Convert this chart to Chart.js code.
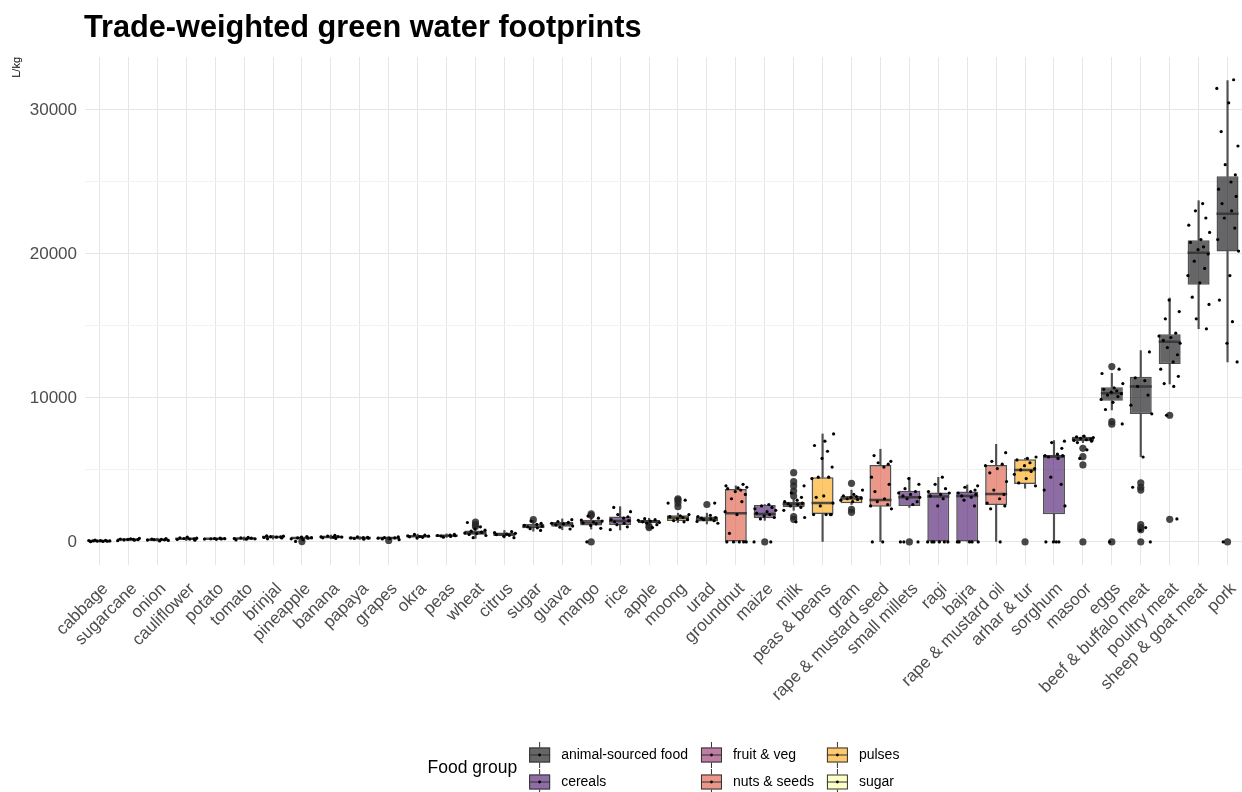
<!DOCTYPE html>
<html>
<head>
<meta charset="utf-8">
<title>Trade-weighted green water footprints</title>
<script src="https://cdn.jsdelivr.net/npm/chart.js@4.4.1/dist/chart.umd.min.js"></script>
<style>
  html, body { margin: 0; padding: 0; background: #fff; }
</style>
</head>
<body>
<canvas id="wfChart" width="1242" height="792"></canvas>
<script>
const FONT = '"Liberation Sans", Arial, sans-serif';

// foods in order of median footprint (L/kg)
const foods = ['cabbage', 'sugarcane', 'onion', 'cauliflower', 'potato', 'tomato', 'brinjal',
  'pineapple', 'banana', 'papaya', 'grapes', 'okra', 'peas', 'wheat', 'citrus', 'sugar', 'guava',
  'mango', 'rice', 'apple', 'moong', 'urad', 'groundnut', 'maize', 'milk', 'peas & beans', 'gram',
  'rape & mustard seed', 'small millets', 'ragi', 'bajra', 'rape & mustard oil', 'arhar & tur',
  'sorghum', 'masoor', 'eggs', 'beef & buffalo meat', 'poultry meat', 'sheep & goat meat', 'pork'];

const foodGroup = ['fruit & veg', 'sugar', 'fruit & veg', 'fruit & veg', 'fruit & veg', 'fruit & veg',
  'fruit & veg', 'fruit & veg', 'fruit & veg', 'fruit & veg', 'fruit & veg', 'fruit & veg',
  'fruit & veg', 'cereals', 'fruit & veg', 'sugar', 'fruit & veg', 'fruit & veg', 'cereals',
  'fruit & veg', 'pulses', 'pulses', 'nuts & seeds', 'cereals', 'animal-sourced food', 'pulses',
  'pulses', 'nuts & seeds', 'cereals', 'cereals', 'cereals', 'nuts & seeds', 'pulses', 'cereals',
  'pulses', 'animal-sourced food', 'animal-sourced food', 'animal-sourced food',
  'animal-sourced food', 'animal-sourced food'];

const groupNames = ['animal-sourced food', 'cereals', 'fruit & veg', 'nuts & seeds', 'pulses', 'sugar'];
const groupFill = ['rgba(0,0,4,0.6)', 'rgba(66,10,104,0.6)', 'rgba(147,38,103,0.6)',
  'rgba(221,81,58,0.6)', 'rgba(252,165,10,0.6)', 'rgba(252,255,164,0.6)'];

const yTicks = [0, 5000, 10000, 15000, 20000, 25000, 30000];

// box statistics
const q1 = [40, 130, 120, 180, 200, 200, 300, 230, 300, 240, 220, 330, 380, 500, 420, 950, 1050,
  1150, 1180, 1300, 1450, 1420, 0, 1650, 2410, 1940, 2690, 2450, 2500, 0, 0, 2570, 4030, 1920,
  7000, 9810, 8890, 12360, 17870, 20180];
const median = [70, 170, 160, 230, 220, 240, 340, 280, 350, 280, 270, 390, 430, 620, 530, 1080,
  1230, 1350, 1450, 1420, 1680, 1580, 2000, 1950, 2640, 2710, 3020, 2920, 3100, 3150, 3190, 3330,
  5000, 5920, 7150, 10330, 10790, 13910, 20090, 22800];
const q3 = [100, 210, 200, 280, 240, 280, 390, 320, 400, 320, 320, 450, 480, 800, 650, 1250, 1380,
  1550, 1760, 1530, 1850, 1760, 3680, 2570, 2800, 4490, 3190, 5350, 3560, 3430, 3500, 5350, 5740,
  6040, 7300, 10740, 11480, 14420, 20950, 25390];
const whiskerLow = [10, 80, 60, 100, 170, 120, 200, 150, 220, 180, 150, 250, 310, 250, 280, 750,
  850, 900, 830, 950, 1350, 1250, 0, 1500, 2200, 0, 2600, 0, 2400, 0, 0, 0, 3730, 0, 6900, 9170,
  5930, 10970, 14810, 12500];
const whiskerHigh = [140, 260, 260, 350, 270, 350, 450, 400, 480, 360, 380, 540, 560, 1100, 800,
  1500, 1600, 1750, 2450, 1650, 2000, 2000, 3900, 2600, 3000, 7500, 3600, 6440, 4490, 4490, 3960,
  6780, 5800, 7040, 7400, 11710, 13290, 16940, 23700, 32040];

// values beyond the whiskers
const outliers = [[], [], [], [], [], [], [], [30], [], [], [100], [], [], [1080, 1200, 1380], [],
  [1550], [], [0, 1850, 1950], [], [1000, 1100], [2450, 2700, 2900, 3000], [2600], [], [0],
  [1570, 1760, 3190, 3540, 3890, 4190, 4810], [], [2060, 2270, 4070], [], [0], [], [], [], [0], [],
  [0, 5350, 5920, 6500], [0, 8180, 8360, 12180], [0, 850, 1000, 1200, 3600, 3800, 4100],
  [1570, 8800], [], [0]];

// individual observations
const observations = [
  [20, 40, 50, 60, 70, 80, 90, 100, 110, 130],
  [90, 120, 140, 160, 170, 180, 200, 220, 250],
  [70, 110, 130, 150, 160, 180, 200, 230],
  [120, 170, 200, 220, 240, 260, 290, 330],
  [180, 200, 210, 220, 230, 240, 260],
  [140, 190, 220, 240, 260, 280, 320],
  [220, 280, 310, 330, 350, 370, 400, 430],
  [40, 160, 220, 260, 280, 300, 330, 380],
  [240, 290, 320, 340, 360, 380, 410, 460],
  [190, 240, 260, 280, 300, 320, 350],
  [160, 210, 240, 260, 280, 310, 350],
  [270, 320, 360, 380, 400, 430, 470, 520],
  [330, 380, 410, 430, 450, 470, 520],
  [300, 450, 520, 580, 620, 680, 750, 820, 900, 1050, 1350],
  [300, 400, 460, 510, 550, 600, 650, 720],
  [800, 920, 980, 1050, 1100, 1150, 1220, 1300, 1450],
  [900, 1020, 1100, 1180, 1250, 1300, 1360, 1420, 1550],
  [0, 950, 1150, 1250, 1320, 1380, 1450, 1520, 1650, 1800],
  [850, 1050, 1200, 1300, 1400, 1480, 1550, 1650, 1750, 1900, 2100, 2400],
  [1000, 1200, 1300, 1350, 1400, 1450, 1500, 1550, 1620],
  [1400, 1480, 1550, 1620, 1700, 1760, 1820, 1900, 2700, 2900],
  [1300, 1420, 1480, 1550, 1600, 1650, 1700, 1760, 1850, 2700],
  [0, 0, 0, 0, 0, 600, 1900, 2100, 2800, 3000, 3300, 3500, 3600, 3700, 3750, 3800, 3900, 4000],
  [0, 0, 1600, 1700, 1800, 1900, 2000, 2100, 2200, 2300, 2400, 2500, 2600],
  [1400, 1700, 2200, 2400, 2500, 2600, 2650, 2700, 2800, 2900, 3100, 3400, 3900],
  [1900, 1900, 1900, 1900, 2500, 2700, 3100, 3200, 4400, 4500, 4500, 5200, 5800, 6300, 6700, 7000, 7500],
  [2800, 2900, 2950, 3000, 3050, 3100, 3150, 3200, 3300, 3600],
  [0, 0, 2300, 2500, 2600, 2800, 3000, 3500, 4000, 4500, 5200, 5400, 5500, 5600, 6000],
  [0, 0, 0, 2600, 2800, 3000, 3100, 3200, 3300, 3400, 3500, 3700, 4000, 4400],
  [0, 0, 0, 0, 0, 0, 2500, 3000, 3200, 3300, 3400, 3500, 3700, 4000, 4500],
  [0, 0, 0, 0, 0, 2500, 2900, 3100, 3200, 3300, 3400, 3500, 3600, 3800, 3900],
  [0, 2300, 2500, 2700, 3000, 3300, 3600, 4200, 4800, 5100, 5300, 5400, 5600, 6200],
  [3900, 4100, 4400, 4700, 4900, 5000, 5100, 5300, 5500, 5700, 5800, 5900],
  [0, 0, 0, 0, 2500, 3600, 4000, 4500, 5800, 5900, 6000, 6000, 6100, 6500, 6900, 7000],
  [5800, 6400, 6900, 7000, 7050, 7100, 7150, 7200, 7250, 7300, 7350],
  [0, 8200, 9200, 9700, 9900, 10100, 10200, 10300, 10400, 10500, 10600, 10700, 11000, 11700, 12000],
  [0, 800, 1000, 3800, 5900, 8900, 9500, 10200, 10800, 11200, 11400, 13200],
  [1600, 8800, 10800, 11000, 11500, 12000, 12500, 13000, 13500, 13800, 14000, 14200, 14300, 14500, 15500, 16000, 16800],
  [14800, 15500, 16500, 17000, 18000, 18500, 19000, 19500, 20000, 20300, 20500, 20800, 21000, 21500, 22000, 22500, 23000, 23500],
  [0, 12500, 13800, 15300, 16800, 18500, 20200, 21000, 21800, 22500, 23000, 23500, 24000, 24500, 25000, 25500, 26200, 27500, 28500, 30500, 31500, 32100]
];

// horizontal spread of the observation dots, in category units
const spread = [-0.31, 0.12, 0.27, -0.08, 0.36, -0.22, 0.04, -0.37, 0.21, -0.15, 0.33, -0.02,
  0.17, -0.28, 0.08, 0.38, -0.34, 0.25, -0.11, 0.14, -0.19, 0.3];

const fillFor = foodGroup.map(g => groupFill[groupNames.indexOf(g)]);
const EDGE = 'rgba(51,51,51,0.85)';

const outlierPts = [];
outliers.forEach((vals, i) => vals.forEach(v => outlierPts.push({ x: i, y: v })));
const obsPts = [];
observations.forEach((vals, i) => vals.forEach((v, k) => {
  obsPts.push({ x: i + spread[(k + i * 7) % spread.length], y: v });
}));

// title sits flush with the panel's left edge
const panelTitle = {
  id: 'panelTitle',
  afterDraw(chart) {
    const ctx = chart.ctx;
    ctx.save();
    ctx.font = 'bold 30.7px ' + FONT;
    ctx.fillStyle = '#000';
    ctx.textBaseline = 'alphabetic';
    ctx.fillText('Trade-weighted green water footprints', chart.chartArea.left - 1, 37);
    ctx.restore();
  }
};

// two-row legend with boxplot keys, filled column by column
const groupLegend = {
  id: 'groupLegend',
  afterDraw(chart) {
    const ctx = chart.ctx;
    const area = chart.chartArea;
    const keyW = 21, keyGap = 11, colGap = 13, titleGap = 12;
    ctx.save();
    ctx.font = '17.5px ' + FONT;
    const titleW = ctx.measureText('Food group').width;
    ctx.font = '14px ' + FONT;
    const cols = [];
    for (let c = 0; c < groupNames.length; c += 2) {
      const idx = [c, c + 1];
      cols.push({ idx, w: Math.max(...idx.map(i => ctx.measureText(groupNames[i]).width)) });
    }
    const total = titleW + titleGap +
      cols.reduce((s, c) => s + keyW + keyGap + c.w, 0) + colGap * (cols.length - 1);
    let x = (area.left + area.right) / 2 - total / 2;
    const rows = [chart.height - 37, chart.height - 10];
    const midY = (rows[0] + rows[1]) / 2;

    ctx.fillStyle = '#000';
    ctx.textBaseline = 'middle';
    ctx.font = '17.5px ' + FONT;
    ctx.fillText('Food group', x, midY);
    x += titleW + titleGap;

    cols.forEach(col => {
      col.idx.forEach((gi, r) => {
        const cy = rows[r];
        const cx = x + keyW / 2;
        ctx.strokeStyle = '#333';
        ctx.lineWidth = 1;
        ctx.beginPath();
        ctx.moveTo(cx, cy - 13);
        ctx.lineTo(cx, cy + 13);
        ctx.stroke();
        ctx.fillStyle = '#fff';
        ctx.fillRect(x, cy - 7.5, keyW, 15);
        ctx.fillStyle = groupFill[gi];
        ctx.fillRect(x, cy - 7.5, keyW, 15);
        ctx.strokeRect(x + 0.5, cy - 7, keyW - 1, 14);
        ctx.beginPath();
        ctx.moveTo(x, cy);
        ctx.lineTo(x + keyW, cy);
        ctx.stroke();
        ctx.fillStyle = '#000';
        ctx.beginPath();
        ctx.arc(cx, cy, 1.4, 0, Math.PI * 2);
        ctx.fill();
        ctx.font = '14px ' + FONT;
        ctx.fillText(groupNames[gi], x + keyW + keyGap, cy);
      });
      x += keyW + keyGap + col.w + colGap;
    });
    ctx.restore();
  }
};

new Chart(document.getElementById('wfChart'), {
  type: 'bar',
  data: {
    labels: foods,
    datasets: [
      {
        // observations on top
        type: 'scatter',
        xAxisID: 'xj',
        data: obsPts,
        pointRadius: 1.6,
        pointBackgroundColor: '#000',
        pointBorderWidth: 0,
        order: 0
      },
      {
        type: 'scatter',
        xAxisID: 'xj',
        data: outlierPts,
        pointRadius: 3.6,
        pointBackgroundColor: 'rgba(40,40,40,0.85)',
        pointBorderWidth: 0,
        order: 1
      },
      {
        type: 'line',
        data: median,
        showLine: false,
        pointStyle: 'line',
        pointRadius: 11,
        pointHoverRadius: 11,
        pointBorderWidth: 2.5,
        pointBorderColor: EDGE,
        order: 2
      },
      {
        data: q1.map((v, i) => [v, q3[i]]),
        backgroundColor: fillFor,
        borderColor: EDGE,
        borderWidth: 1.5,
        borderSkipped: false,
        grouped: false,
        barPercentage: 0.76,
        categoryPercentage: 1,
        order: 3
      },
      {
        data: whiskerLow.map((v, i) => [v, q1[i]]),
        backgroundColor: EDGE,
        borderWidth: 0,
        grouped: false,
        barThickness: 1.5,
        order: 4
      },
      {
        data: q3.map((v, i) => [v, whiskerHigh[i]]),
        backgroundColor: EDGE,
        borderWidth: 0,
        grouped: false,
        barThickness: 1.5,
        order: 4
      }
    ]
  },
  options: {
    responsive: false,
    animation: false,
    events: [],
    layout: { autoPadding: false, padding: { top: 57, left: 0, right: 0, bottom: 0 } },
    plugins: {
      legend: { display: false },
      tooltip: { enabled: false },
      title: { display: false }
    },
    scales: {
      x: {
        type: 'category',
        offset: true,
        border: { display: false },
        grid: { offset: false, color: '#e6e6e6', drawTicks: false },
        ticks: {
          autoSkip: false,
          minRotation: 45,
          maxRotation: 45,
          padding: 14,
          labelOffset: 6,
          color: '#4d4d4d',
          font: { family: FONT, size: 17 }
        },
        afterFit(scale) {
          scale.height = 227;
          scale.paddingLeft = 0;
          scale.paddingRight = 0;
        }
      },
      xj: {
        type: 'linear',
        display: false,
        offset: false,
        min: -0.5,
        max: foods.length - 0.5
      },
      y: {
        min: -1600,
        max: 33680,
        border: { display: false },
        grid: {
          drawTicks: false,
          color: ctx => (ctx.tick && ctx.tick.value % 10000 === 0) ? '#e6e6e6' : '#f3f3f3'
        },
        ticks: {
          padding: 8,
          color: '#4d4d4d',
          font: { family: FONT, size: 17 },
          callback: v => (v % 10000 === 0 ? String(v) : '')
        },
        afterBuildTicks(scale) {
          scale.ticks = yTicks.map(v => ({ value: v }));
        },
        title: {
          display: true,
          text: 'L/kg',
          align: 'end',
          color: '#000',
          font: { family: FONT, size: 11 },
          padding: { top: 10, bottom: 0 }
        },
        afterFit(scale) { scale.width = 85; }
      }
    }
  },
  plugins: [panelTitle, groupLegend]
});
</script>
</body>
</html>
